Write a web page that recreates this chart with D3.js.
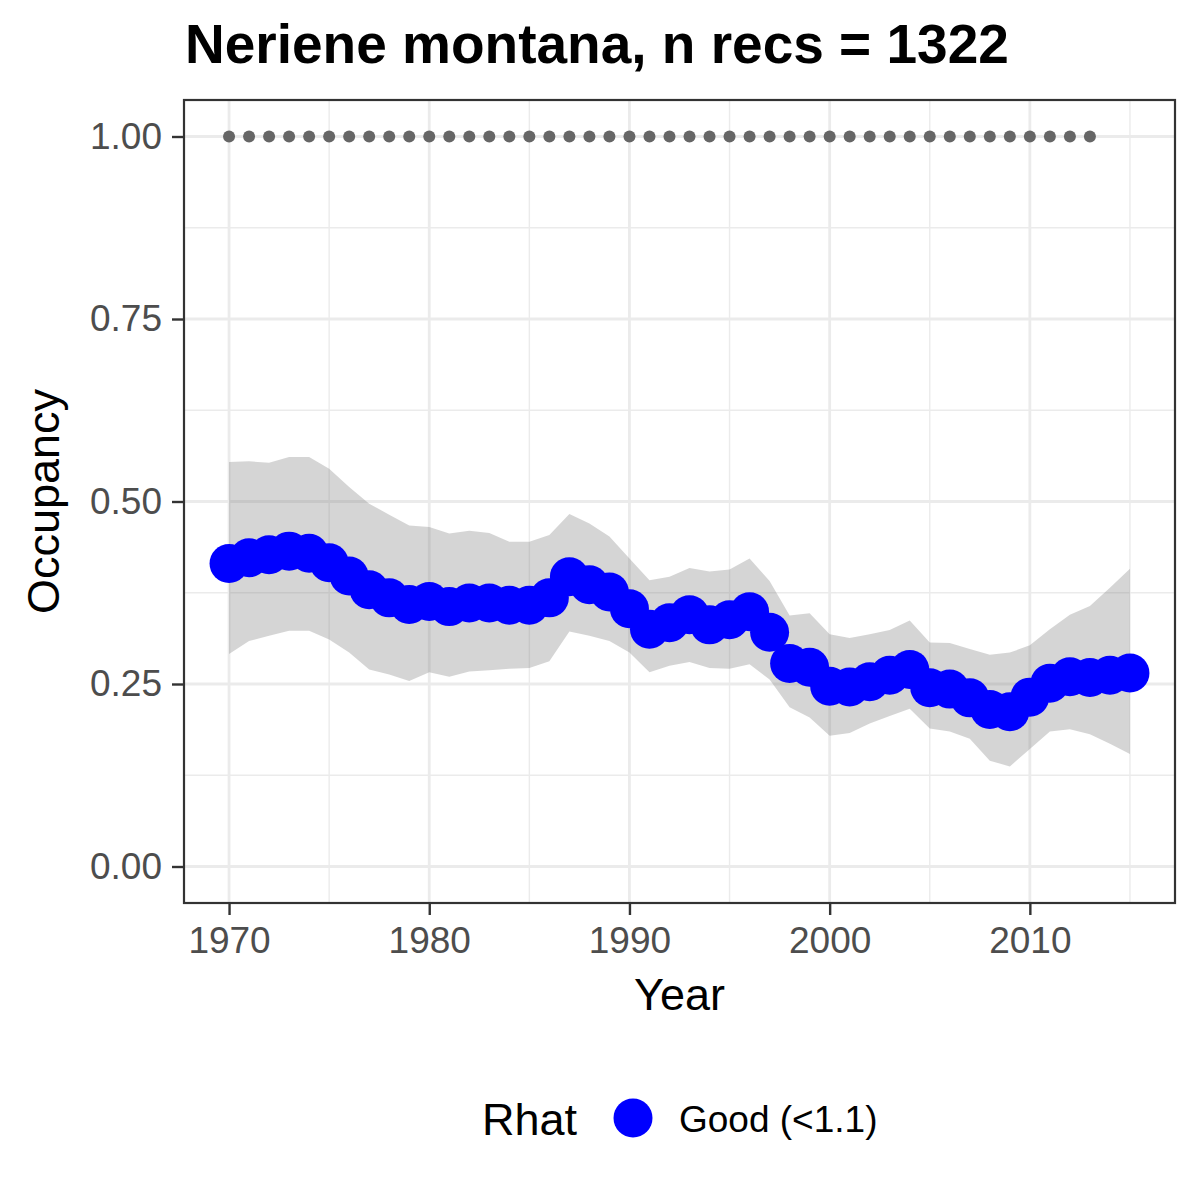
<!DOCTYPE html>
<html>
<head>
<meta charset="utf-8">
<script src="https://cdn.jsdelivr.net/npm/d3@7"></script>
<style>
  body { margin: 0; background: #fff; }
  svg { display: block; font-family: "Liberation Sans", Arial, sans-serif; }
</style>
</head>
<body>
<svg id="chart" width="1200" height="1200"></svg>
<script>
// data
var years = [1970, 1971, 1972, 1973, 1974, 1975, 1976, 1977, 1978, 1979,
             1980, 1981, 1982, 1983, 1984, 1985, 1986, 1987, 1988, 1989,
             1990, 1991, 1992, 1993, 1994, 1995, 1996, 1997, 1998, 1999,
             2000, 2001, 2002, 2003, 2004, 2005, 2006, 2007, 2008, 2009,
             2010, 2011, 2012, 2013, 2014, 2015]
var occMean = [0.415, 0.423, 0.427, 0.432, 0.429, 0.416, 0.398, 0.379, 0.368, 0.359,
               0.363, 0.356, 0.361, 0.361, 0.358, 0.358, 0.368, 0.397, 0.386, 0.376,
               0.353, 0.325, 0.334, 0.345, 0.331, 0.338, 0.349, 0.321, 0.278, 0.273,
               0.247, 0.246, 0.253, 0.262, 0.270, 0.245, 0.243, 0.231, 0.215, 0.212,
               0.232, 0.251, 0.260, 0.259, 0.262, 0.265]
var occUpper = [0.554, 0.555, 0.553, 0.561, 0.561, 0.545, 0.520, 0.497, 0.482, 0.467,
                0.465, 0.456, 0.460, 0.457, 0.445, 0.445, 0.454, 0.483, 0.470, 0.452,
                0.422, 0.392, 0.397, 0.409, 0.404, 0.407, 0.422, 0.391, 0.344, 0.347,
                0.318, 0.313, 0.318, 0.324, 0.337, 0.307, 0.306, 0.298, 0.290, 0.293,
                0.303, 0.325, 0.345, 0.357, 0.382, 0.408]
var occLower = [0.291, 0.309, 0.316, 0.323, 0.323, 0.311, 0.293, 0.270, 0.263, 0.254,
                0.266, 0.260, 0.267, 0.269, 0.271, 0.272, 0.281, 0.322, 0.316, 0.309,
                0.293, 0.266, 0.275, 0.280, 0.272, 0.271, 0.277, 0.256, 0.218, 0.204,
                0.179, 0.183, 0.196, 0.206, 0.216, 0.189, 0.185, 0.175, 0.145, 0.137,
                0.161, 0.185, 0.188, 0.181, 0.168, 0.154]
// years with records (grey dots along the top)
var recYears = [1970, 1971, 1972, 1973, 1974, 1975, 1976, 1977, 1978, 1979,
                1980, 1981, 1982, 1983, 1984, 1985, 1986, 1987, 1988, 1989,
                1990, 1991, 1992, 1993, 1994, 1995, 1996, 1997, 1998, 1999,
                2000, 2001, 2002, 2003, 2004, 2005, 2006, 2007, 2008, 2009,
                2010, 2011, 2012, 2013]
var recValue = 1
var xTicks = [1970, 1980, 1990, 2000, 2010]
var xMinor = [1975, 1985, 1995, 2005, 2015]
var yTicks = [0, 0.25, 0.5, 0.75, 1]
var yMinor = [0.125, 0.375, 0.625, 0.875]
var titleText = "Neriene montana, n recs = 1322"
var legendTitle = "Rhat"
var legendLabel = "Good (<1.1)"

var rows = years.map(function(y, i) {
  return {year: y, mean: occMean[i], lo: occLower[i], hi: occUpper[i]}
})

var svg = d3.select("#chart")
var panel = {left: 184, right: 1175, top: 100, bottom: 903}

// ggplot style 5% expansion
var xPad = (2015 - 1970) * 0.05
var x = d3.scaleLinear().domain([1970 - xPad, 2015 + xPad]).range([panel.left, panel.right])
var y = d3.scaleLinear().domain([-0.05, 1.05]).range([panel.bottom, panel.top])

var g = svg.append("g")

// grid
g.selectAll("line.minx").data(xMinor).enter().append("line")
  .attr("x1", d => x(d)).attr("x2", d => x(d))
  .attr("y1", panel.top).attr("y2", panel.bottom)
  .attr("stroke", "#ebebeb").attr("stroke-width", 1.4)
g.selectAll("line.miny").data(yMinor).enter().append("line")
  .attr("y1", d => y(d)).attr("y2", d => y(d))
  .attr("x1", panel.left).attr("x2", panel.right)
  .attr("stroke", "#ebebeb").attr("stroke-width", 1.4)
g.selectAll("line.majx").data(xTicks).enter().append("line")
  .attr("x1", d => x(d)).attr("x2", d => x(d))
  .attr("y1", panel.top).attr("y2", panel.bottom)
  .attr("stroke", "#ebebeb").attr("stroke-width", 2.8)
g.selectAll("line.majy").data(yTicks).enter().append("line")
  .attr("y1", d => y(d)).attr("y2", d => y(d))
  .attr("x1", panel.left).attr("x2", panel.right)
  .attr("stroke", "#ebebeb").attr("stroke-width", 2.8)

// ribbon
var area = d3.area()
  .x(d => x(d.year))
  .y0(d => y(d.lo))
  .y1(d => y(d.hi))
g.append("path").datum(rows)
  .attr("d", area)
  .attr("fill", "#7f7f7f").attr("fill-opacity", 0.33)

// record dots
g.selectAll("circle.rec").data(recYears).enter().append("circle")
  .attr("cx", d => x(d)).attr("cy", y(recValue)).attr("r", 6)
  .attr("fill", "#666666")

// occupancy points
g.selectAll("circle.occ").data(rows).enter().append("circle")
  .attr("cx", d => x(d.year)).attr("cy", d => y(d.mean)).attr("r", 19.5)
  .attr("fill", "#0000ff")

// panel border
svg.append("rect")
  .attr("x", panel.left).attr("y", panel.top)
  .attr("width", panel.right - panel.left).attr("height", panel.bottom - panel.top)
  .attr("fill", "none").attr("stroke", "#333333").attr("stroke-width", 2.2)

// axes
var xAxis = svg.append("g")
  .attr("transform", "translate(0," + (panel.bottom + 1) + ")")
  .call(d3.axisBottom(x).tickValues(xTicks).tickFormat(d3.format("d")).tickSizeInner(11).tickSizeOuter(0))
var yAxis = svg.append("g")
  .attr("transform", "translate(" + (panel.left - 1) + ",0)")
  .call(d3.axisLeft(y).tickValues(yTicks).tickFormat(d3.format(".2f")).tickSizeInner(11).tickSizeOuter(0).tickPadding(10))

;[xAxis, yAxis].forEach(function(a) {
  a.select(".domain").remove()
  a.selectAll(".tick line").attr("stroke", "#333333").attr("stroke-width", 2.4)
  a.selectAll(".tick text").attr("fill", "#4d4d4d").style("font-size", "37px")
    .style("font-family", "'Liberation Sans', Arial, sans-serif")
})
xAxis.selectAll(".tick text").attr("y", 49).attr("dy", 0)

// titles
svg.append("text").attr("x", 185).attr("y", 63)
  .style("font-size", "55px").style("font-weight", "bold").attr("fill", "#000")
  .text(titleText)
svg.append("text").attr("x", (panel.left + panel.right) / 2).attr("y", 1010)
  .attr("text-anchor", "middle").style("font-size", "45px").attr("fill", "#000")
  .text("Year")
svg.append("text")
  .attr("transform", "translate(59," + (panel.top + panel.bottom) / 2 + ") rotate(-90)")
  .attr("text-anchor", "middle").style("font-size", "45px").attr("fill", "#000")
  .text("Occupancy")

// legend
var leg = svg.append("g")
leg.append("text").attr("x", 482).attr("y", 1135)
  .style("font-size", "45px").attr("fill", "#000").text(legendTitle)
leg.append("circle").attr("cx", 633).attr("cy", 1118).attr("r", 19.5).attr("fill", "#0000ff")
leg.append("text").attr("x", 679).attr("y", 1132)
  .style("font-size", "37px").attr("fill", "#000").text(legendLabel)
</script>
</body>
</html>
